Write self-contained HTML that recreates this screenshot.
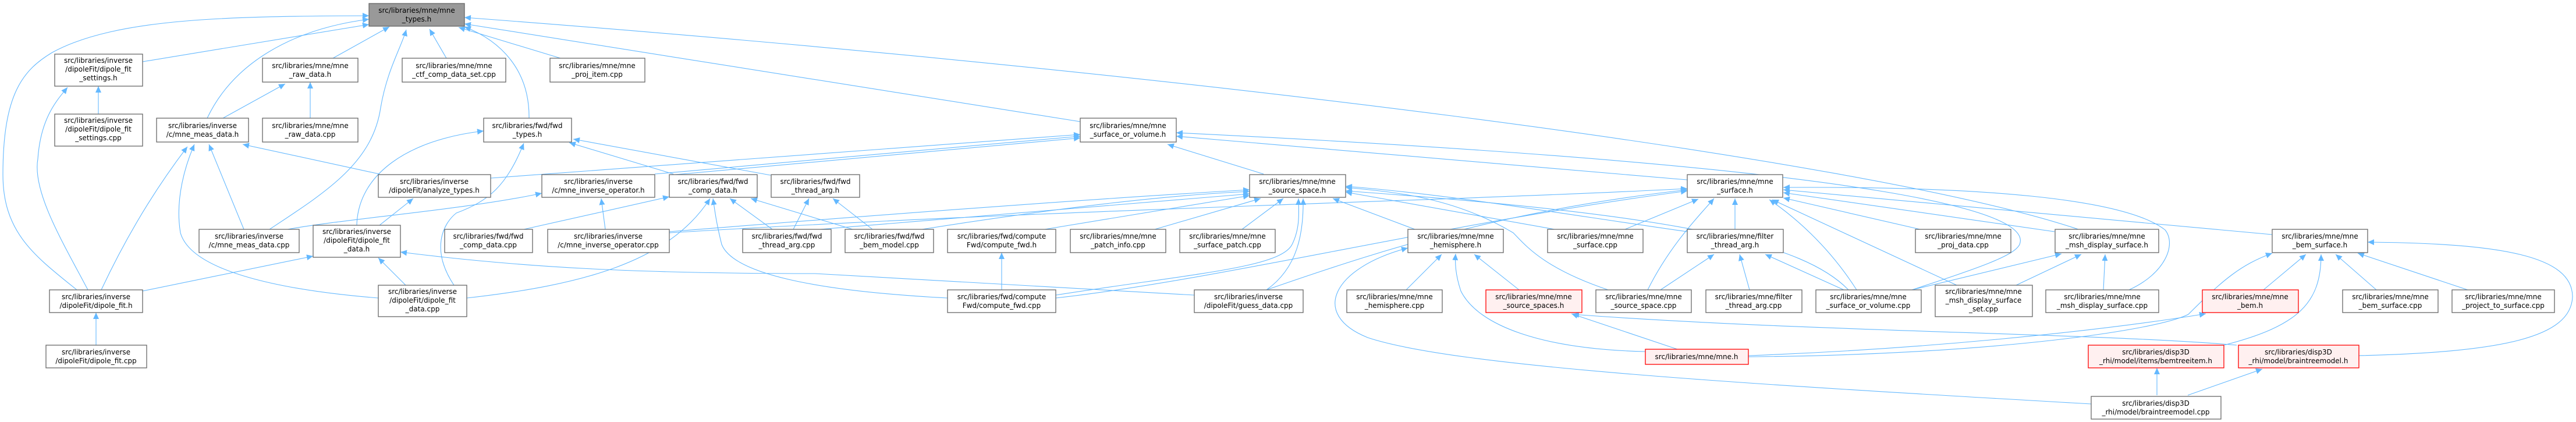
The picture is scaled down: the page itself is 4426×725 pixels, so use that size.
<!DOCTYPE html>
<html><head><meta charset="utf-8"><style>
html,body{margin:0;padding:0;background:#fff;width:4426px;height:725px;overflow:hidden}
svg{display:block}
text{font-family:"DejaVu Sans","Liberation Sans",sans-serif;font-size:12px;fill:#000;text-anchor:middle}
.n{fill:#fff;stroke:#666;stroke-width:1.3}
.r{fill:#fff0f0;stroke:#f00;stroke-width:1.3}
.g{fill:#999;stroke:#666;stroke-width:1.3}
path.e{fill:none;stroke:#63b8ff;stroke-width:1.1}
</style></head><body>
<svg width="4426" height="725" viewBox="0 0 4426 725" xmlns="http://www.w3.org/2000/svg">
<defs><marker id="a" markerUnits="userSpaceOnUse" markerWidth="12" markerHeight="10" refX="11" refY="5" orient="auto"><path d="M0,0 L11,5 L0,10 z" fill="#63b8ff"/></marker></defs>
<g marker-end="url(#a)">
<path class="e" d="M245,106 L634,42"/>
<path class="e" d="M132,498 C60,440 5,400 5,300 C5,160 40,120 90,90 C200,30 400,28 634,27"/>
<path class="e" d="M356,203 C400,110 500,50 634,33"/>
<path class="e" d="M572,100 L669,46"/>
<path class="e" d="M463,394 C560,330 640,280 654,185 C665,120 690,80 698,51"/>
<path class="e" d="M767,100 L738,50"/>
<path class="e" d="M909,203 C910,120 860,70 798,46"/>
<path class="e" d="M963,100 L788,47"/>
<path class="e" d="M3571,394 C3200,270 2000,120 798,30"/>
<path class="e" d="M1856,209 L798,41"/>
<path class="e" d="M169,196 L169,148"/>
<path class="e" d="M165,593 L165,537"/>
<path class="e" d="M151,498 C110,420 55,330 65,273 C70,200 100,170 116,150"/>
<path class="e" d="M174,498 C220,400 270,320 322,252"/>
<path class="e" d="M419,394 L359,248"/>
<path class="e" d="M650,512 C500,500 330,470 310,400 C300,340 320,280 334,248"/>
<path class="e" d="M652,299 L417,248"/>
<path class="e" d="M383,203 L490,144"/>
<path class="e" d="M533,203 L533,141"/>
<path class="e" d="M652,387 L710,341"/>
<path class="e" d="M843,306 L1856,231"/>
<path class="e" d="M494,394 C600,375 800,360 931,332"/>
<path class="e" d="M613,387 C615,300 700,240 831,225"/>
<path class="e" d="M245,500 L538,440"/>
<path class="e" d="M697,490 L650,443"/>
<path class="e" d="M2052,507 L1400,470 C1100,470 900,460 688,433"/>
<path class="e" d="M802,512 C1000,490 1150,450 1220,341"/>
<path class="e" d="M780,490 C740,430 760,385 784,366 C840,345 870,320 900,246"/>
<path class="e" d="M1157,299 L978,245"/>
<path class="e" d="M1324,301 L985,239"/>
<path class="e" d="M1040,394 L1033,341"/>
<path class="e" d="M1125,299 L1856,234"/>
<path class="e" d="M1160,300 L1856,237"/>
<path class="e" d="M900,394 L1150,338"/>
<path class="e" d="M1327,394 L1254,341"/>
<path class="e" d="M1465,394 L1290,341"/>
<path class="e" d="M1628,512 C1400,500 1260,470 1240,420 C1230,380 1228,360 1225,341"/>
<path class="e" d="M1363,394 L1390,341"/>
<path class="e" d="M1499,394 L1431,341"/>
<path class="e" d="M1409,394 C1700,370 2000,345 2147,333"/>
<path class="e" d="M1150,398 C1500,370 1900,340 2147,326"/>
<path class="e" d="M1584,394 C1800,360 2000,335 2147,329"/>
<path class="e" d="M1795,394 L2147,336"/>
<path class="e" d="M1984,394 L2166,341"/>
<path class="e" d="M2134,394 L2205,341"/>
<path class="e" d="M1814,507 C2050,470 2200,460 2220,420 C2235,390 2231,360 2231,341"/>
<path class="e" d="M2176,498 C2230,460 2240,400 2239,341"/>
<path class="e" d="M2171,299 L2006,248"/>
<path class="e" d="M2431,394 L2290,341"/>
<path class="e" d="M2763,498 C2650,460 2620,420 2600,400 C2500,340 2400,330 2312,322"/>
<path class="e" d="M2671,394 L2312,330"/>
<path class="e" d="M2899,398 C2700,370 2500,335 2312,320"/>
<path class="e" d="M2899,309 L2021,234"/>
<path class="e" d="M3285,498 C3400,460 3460,440 3470,420 C3490,370 3300,290 2021,228"/>
<path class="e" d="M1150,400 C1800,360 2500,345 2899,324"/>
<path class="e" d="M1814,512 C2100,480 2500,380 2899,328"/>
<path class="e" d="M2176,498 C2400,420 2600,360 2899,326"/>
<path class="e" d="M2792,394 L2918,342"/>
<path class="e" d="M2831,498 C2870,420 2920,370 2945,341"/>
<path class="e" d="M2981,394 L2981,341"/>
<path class="e" d="M3190,498 C3140,420 3080,370 3040,343"/>
<path class="e" d="M3362,490 L3045,343"/>
<path class="e" d="M3299,394 L3064,340"/>
<path class="e" d="M3530,398 L3064,331"/>
<path class="e" d="M3904,403 L3064,326"/>
<path class="e" d="M3658,498 C3720,470 3740,420 3720,395 C3650,340 3400,320 3064,322"/>
<path class="e" d="M3176,498 C3100,420 2900,370 2312,328"/>
<path class="e" d="M2416,498 L2477,437"/>
<path class="e" d="M2610,498 L2533,437"/>
<path class="e" d="M2827,604 C2650,600 2540,560 2510,500 C2500,470 2500,450 2501,436"/>
<path class="e" d="M3593,694 C3000,660 2500,630 2350,580 C2250,540 2290,460 2419,426"/>
<path class="e" d="M2882,600 L2700,539"/>
<path class="e" d="M3843,593 C3600,572 3100,570 2702,540"/>
<path class="e" d="M3285,498 L3542,436"/>
<path class="e" d="M3464,490 L3576,437"/>
<path class="e" d="M3614,498 L3617,437"/>
<path class="e" d="M3006,498 L2989,437"/>
<path class="e" d="M3168,498 L3033,437"/>
<path class="e" d="M2853,498 L2945,437"/>
<path class="e" d="M1721,498 L1721,434"/>
<path class="e" d="M3004,611 C3300,600 3600,570 3790,539"/>
<path class="e" d="M3004,613 C3400,610 3700,570 3760,540 C3820,480 3850,455 3904,435"/>
<path class="e" d="M3889,498 L3962,437"/>
<path class="e" d="M4083,498 L4013,437"/>
<path class="e" d="M4240,498 L4051,435"/>
<path class="e" d="M3821,593 C3950,560 3988,520 3988,437"/>
<path class="e" d="M4052,611 C4300,605 4417,580 4420,510 C4420,440 4300,418 4068,416"/>
<path class="e" d="M3706,679 L3706,632"/>
<path class="e" d="M3759,679 L3887,634"/>
</g>

<rect class="g" x="634" y="6" width="164" height="39"/><text x="716" y="22">src/libraries/mne/mne<tspan x="716" dy="15">_types.h</tspan></text>
<rect class="n" x="94" y="93" width="151" height="55"/><text x="169" y="108">src/libraries/inverse<tspan x="169" dy="15">/dipoleFit/dipole_fit</tspan><tspan x="169" dy="15">_settings.h</tspan></text>
<rect class="n" x="451" y="100" width="164" height="41"/><text x="533" y="117">src/libraries/mne/mne<tspan x="533" dy="15">_raw_data.h</tspan></text>
<rect class="n" x="691" y="100" width="178" height="41"/><text x="780" y="117">src/libraries/mne/mne<tspan x="780" dy="15">_ctf_comp_data_set.cpp</tspan></text>
<rect class="n" x="945" y="100" width="163" height="41"/><text x="1026" y="117">src/libraries/mne/mne<tspan x="1026" dy="15">_proj_item.cpp</tspan></text>
<rect class="n" x="94" y="196" width="151" height="55"/><text x="169" y="211">src/libraries/inverse<tspan x="169" dy="15">/dipoleFit/dipole_fit</tspan><tspan x="169" dy="15">_settings.cpp</tspan></text>
<rect class="n" x="269" y="203" width="158" height="41"/><text x="348" y="220">src/libraries/inverse<tspan x="348" dy="15">/c/mne_meas_data.h</tspan></text>
<rect class="n" x="451" y="203" width="164" height="41"/><text x="533" y="220">src/libraries/mne/mne<tspan x="533" dy="15">_raw_data.cpp</tspan></text>
<rect class="n" x="831" y="203" width="151" height="41"/><text x="906" y="220">src/libraries/fwd/fwd<tspan x="906" dy="15">_types.h</tspan></text>
<rect class="n" x="1856" y="203" width="165" height="41"/><text x="1938" y="220">src/libraries/mne/mne<tspan x="1938" dy="15">_surface_or_volume.h</tspan></text>
<rect class="n" x="650" y="300" width="193" height="39"/><text x="746" y="316">src/libraries/inverse<tspan x="746" dy="15">/dipoleFit/analyze_types.h</tspan></text>
<rect class="n" x="931" y="300" width="194" height="39"/><text x="1028" y="316">src/libraries/inverse<tspan x="1028" dy="15">/c/mne_inverse_operator.h</tspan></text>
<rect class="n" x="1150" y="300" width="151" height="39"/><text x="1225" y="316">src/libraries/fwd/fwd<tspan x="1225" dy="15">_comp_data.h</tspan></text>
<rect class="n" x="1325" y="300" width="152" height="39"/><text x="1401" y="316">src/libraries/fwd/fwd<tspan x="1401" dy="15">_thread_arg.h</tspan></text>
<rect class="n" x="2147" y="300" width="165" height="39"/><text x="2229" y="316">src/libraries/mne/mne<tspan x="2229" dy="15">_source_space.h</tspan></text>
<rect class="n" x="2899" y="300" width="164" height="39"/><text x="2981" y="316">src/libraries/mne/mne<tspan x="2981" dy="15">_surface.h</tspan></text>
<rect class="n" x="342" y="394" width="172" height="40"/><text x="428" y="410">src/libraries/inverse<tspan x="428" dy="15">/c/mne_meas_data.cpp</tspan></text>
<rect class="n" x="538" y="387" width="150" height="55"/><text x="613" y="402">src/libraries/inverse<tspan x="613" dy="15">/dipoleFit/dipole_fit</tspan><tspan x="613" dy="15">_data.h</tspan></text>
<rect class="n" x="764" y="394" width="151" height="40"/><text x="839" y="410">src/libraries/fwd/fwd<tspan x="839" dy="15">_comp_data.cpp</tspan></text>
<rect class="n" x="941" y="394" width="209" height="40"/><text x="1045" y="410">src/libraries/inverse<tspan x="1045" dy="15">/c/mne_inverse_operator.cpp</tspan></text>
<rect class="n" x="1276" y="394" width="152" height="40"/><text x="1352" y="410">src/libraries/fwd/fwd<tspan x="1352" dy="15">_thread_arg.cpp</tspan></text>
<rect class="n" x="1452" y="394" width="152" height="40"/><text x="1528" y="410">src/libraries/fwd/fwd<tspan x="1528" dy="15">_bem_model.cpp</tspan></text>
<rect class="n" x="1628" y="394" width="186" height="40"/><text x="1721" y="410">src/libraries/fwd/compute<tspan x="1721" dy="15">Fwd/compute_fwd.h</tspan></text>
<rect class="n" x="1839" y="394" width="164" height="40"/><text x="1921" y="410">src/libraries/mne/mne<tspan x="1921" dy="15">_patch_info.cpp</tspan></text>
<rect class="n" x="2027" y="394" width="164" height="40"/><text x="2109" y="410">src/libraries/mne/mne<tspan x="2109" dy="15">_surface_patch.cpp</tspan></text>
<rect class="n" x="2419" y="394" width="164" height="40"/><text x="2501" y="410">src/libraries/mne/mne<tspan x="2501" dy="15">_hemisphere.h</tspan></text>
<rect class="n" x="2659" y="394" width="164" height="40"/><text x="2741" y="410">src/libraries/mne/mne<tspan x="2741" dy="15">_surface.cpp</tspan></text>
<rect class="n" x="2899" y="394" width="165" height="40"/><text x="2981" y="410">src/libraries/mne/filter<tspan x="2981" dy="15">_thread_arg.h</tspan></text>
<rect class="n" x="3291" y="394" width="164" height="40"/><text x="3373" y="410">src/libraries/mne/mne<tspan x="3373" dy="15">_proj_data.cpp</tspan></text>
<rect class="n" x="3531" y="394" width="178" height="40"/><text x="3620" y="410">src/libraries/mne/mne<tspan x="3620" dy="15">_msh_display_surface.h</tspan></text>
<rect class="n" x="3904" y="394" width="164" height="40"/><text x="3986" y="410">src/libraries/mne/mne<tspan x="3986" dy="15">_bem_surface.h</tspan></text>
<rect class="n" x="85" y="498" width="160" height="39"/><text x="165" y="514">src/libraries/inverse<tspan x="165" dy="15">/dipoleFit/dipole_fit.h</tspan></text>
<rect class="n" x="650" y="490" width="152" height="54"/><text x="726" y="505">src/libraries/inverse<tspan x="726" dy="15">/dipoleFit/dipole_fit</tspan><tspan x="726" dy="15">_data.cpp</tspan></text>
<rect class="n" x="1628" y="498" width="186" height="39"/><text x="1721" y="514">src/libraries/fwd/compute<tspan x="1721" dy="15">Fwd/compute_fwd.cpp</tspan></text>
<rect class="n" x="2052" y="498" width="187" height="39"/><text x="2145" y="514">src/libraries/inverse<tspan x="2145" dy="15">/dipoleFit/guess_data.cpp</tspan></text>
<rect class="n" x="2314" y="498" width="164" height="39"/><text x="2396" y="514">src/libraries/mne/mne<tspan x="2396" dy="15">_hemisphere.cpp</tspan></text>
<rect class="r" x="2553" y="498" width="165" height="39"/><text x="2635" y="514">src/libraries/mne/mne<tspan x="2635" dy="15">_source_spaces.h</tspan></text>
<rect class="n" x="2742" y="498" width="164" height="39"/><text x="2824" y="514">src/libraries/mne/mne<tspan x="2824" dy="15">_source_space.cpp</tspan></text>
<rect class="n" x="2931" y="498" width="165" height="39"/><text x="3013" y="514">src/libraries/mne/filter<tspan x="3013" dy="15">_thread_arg.cpp</tspan></text>
<rect class="n" x="3120" y="498" width="181" height="39"/><text x="3210" y="514">src/libraries/mne/mne<tspan x="3210" dy="15">_surface_or_volume.cpp</tspan></text>
<rect class="n" x="3325" y="490" width="167" height="54"/><text x="3408" y="505">src/libraries/mne/mne<tspan x="3408" dy="15">_msh_display_surface</tspan><tspan x="3408" dy="15">_set.cpp</tspan></text>
<rect class="n" x="3515" y="498" width="194" height="39"/><text x="3612" y="514">src/libraries/mne/mne<tspan x="3612" dy="15">_msh_display_surface.cpp</tspan></text>
<rect class="r" x="3784" y="498" width="165" height="39"/><text x="3866" y="514">src/libraries/mne/mne<tspan x="3866" dy="15">_bem.h</tspan></text>
<rect class="n" x="4025" y="498" width="164" height="39"/><text x="4107" y="514">src/libraries/mne/mne<tspan x="4107" dy="15">_bem_surface.cpp</tspan></text>
<rect class="n" x="4213" y="498" width="176" height="39"/><text x="4301" y="514">src/libraries/mne/mne<tspan x="4301" dy="15">_project_to_surface.cpp</tspan></text>
<rect class="n" x="79" y="593" width="173" height="39"/><text x="165" y="609">src/libraries/inverse<tspan x="165" dy="15">/dipoleFit/dipole_fit.cpp</tspan></text>
<rect class="r" x="2827" y="600" width="177" height="26"/><text x="2915" y="617">src/libraries/mne/mne.h</text>
<rect class="r" x="3588" y="593" width="233" height="39"/><text x="3704" y="609">src/libraries/disp3D<tspan x="3704" dy="15">_rhi/model/items/bemtreeitem.h</tspan></text>
<rect class="r" x="3846" y="593" width="207" height="39"/><text x="3949" y="609">src/libraries/disp3D<tspan x="3949" dy="15">_rhi/model/braintreemodel.h</tspan></text>
<rect class="n" x="3593" y="681" width="223" height="39"/><text x="3704" y="697">src/libraries/disp3D<tspan x="3704" dy="15">_rhi/model/braintreemodel.cpp</tspan></text>
</svg>
</body></html>
